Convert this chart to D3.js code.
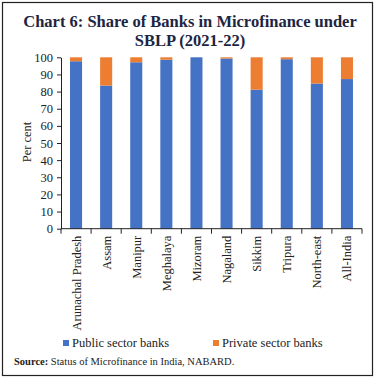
<!DOCTYPE html>
<html><head><meta charset="utf-8">
<script src="https://cdn.jsdelivr.net/npm/d3@7"></script>
<style>body{margin:0;background:#fff;} svg{display:block;}</style>
</head><body>
<script>
const categories = ["Arunachal Pradesh","Assam","Manipur","Meghalaya","Mizoram","Nagaland","Sikkim","Tripura","North-east","All-India"];
const publicBanks = [97.7, 83.5, 97.1, 98.6, 100, 99.3, 81.1, 98.9, 84.7, 87.3];
const privateBanks = [2.3, 16.5, 2.9, 1.4, 0, 0.7, 18.9, 1.1, 15.3, 12.7];
const yTicks = [0,10,20,30,40,50,60,70,80,90,100];
const seriesNames = ["Public sector banks","Private sector banks"];
const colors = ["#4472C4","#ED7D31"];

const W = 379, H = 380;
const svg = d3.select("body").append("svg").attr("width", W).attr("height", H);
const font = "Liberation Serif, DejaVu Serif, serif";

svg.append("rect").attr("x",2.5).attr("y",2.5).attr("width",370).attr("height",373)
  .attr("fill","none").attr("stroke","#222").attr("stroke-width",1.2);

svg.append("text").attr("x",190).attr("y",27).attr("text-anchor","middle")
  .attr("font-family",font).attr("font-weight","bold").attr("font-size",16.5).attr("fill","#1c2541")
  .text("Chart 6: Share of Banks in Microfinance under");
svg.append("text").attr("x",190).attr("y",46).attr("text-anchor","middle")
  .attr("font-family",font).attr("font-weight","bold").attr("font-size",16.5).attr("fill","#1c2541")
  .text("SBLP (2021-22)");

const x = d3.scaleBand().domain(categories).range([61, 362]).paddingInner(0.6).paddingOuter(0.3);
const y = d3.scaleLinear().domain([0,100]).range([228.7, 57.3]);

const stackData = categories.map((c,i)=>({cat:c, pub:publicBanks[i], priv:privateBanks[i]}));
const stack = d3.stack().keys(["pub","priv"])(stackData);
svg.append("g").selectAll("g").data(stack).join("g").attr("fill",(d,i)=>colors[i])
  .selectAll("rect").data(d=>d).join("rect")
  .attr("x",d=>x(d.data.cat)).attr("width",x.bandwidth())
  .attr("y",d=>y(d[1])).attr("height",d=>y(d[0])-y(d[1]));

const yAxis = svg.append("g").attr("transform","translate(61,0)")
  .call(d3.axisLeft(y).tickValues(yTicks).tickSize(4).tickSizeOuter(0));
yAxis.select(".domain").attr("stroke","#222");
yAxis.selectAll("line").attr("stroke","#222");
yAxis.selectAll("text").attr("font-family",font).attr("font-size",12.5).attr("fill","#222").attr("dx","-1");

// x axis with ticks at band boundaries
const xg = svg.append("g").attr("transform","translate(0,228.7)");
xg.append("line").attr("x1",61).attr("x2",362).attr("stroke","#222");
const bounds = d3.range(categories.length+1).map(i => x.range()[0] + i*x.step() - (i===0?0:0));
const edges = categories.map(c => x(c) - x.step()*x.paddingInner()/2).concat([362]);
edges[0] = 61;
xg.selectAll("line.t").data(edges).join("line").attr("class","t")
  .attr("x1",d=>d).attr("x2",d=>d).attr("y1",0).attr("y2",5).attr("stroke","#222");
xg.selectAll("text").data(categories).join("text")
  .attr("transform",d=>`translate(${x(d)+x.bandwidth()/2+4.5},7) rotate(-90)`)
  .attr("text-anchor","end").attr("font-family",font).attr("font-size",12.5).attr("fill","#222")
  .text(d=>d);

svg.append("text").attr("transform","translate(31,142) rotate(-90)").attr("text-anchor","middle")
  .attr("font-family",font).attr("font-size",12.5).attr("fill","#222").text("Per cent");

// legend
const lg = [{x:63, name:seriesNames[0], c:colors[0]},{x:213, name:seriesNames[1], c:colors[1]}];
lg.forEach(l=>{
  svg.append("rect").attr("x",l.x).attr("y",340).attr("width",6).attr("height",6).attr("fill",l.c);
  svg.append("text").attr("x",l.x+9).attr("y",347).attr("font-family",font).attr("font-size",12.5)
    .attr("fill","#222").text(l.name);
});

const src = svg.append("text").attr("x",14).attr("y",365).attr("font-family",font).attr("font-size",10.5).attr("fill","#222");
src.append("tspan").attr("font-weight","bold").text("Source: ");
src.append("tspan").text("Status of Microfinance in India, NABARD.");
</script>
</body></html>
